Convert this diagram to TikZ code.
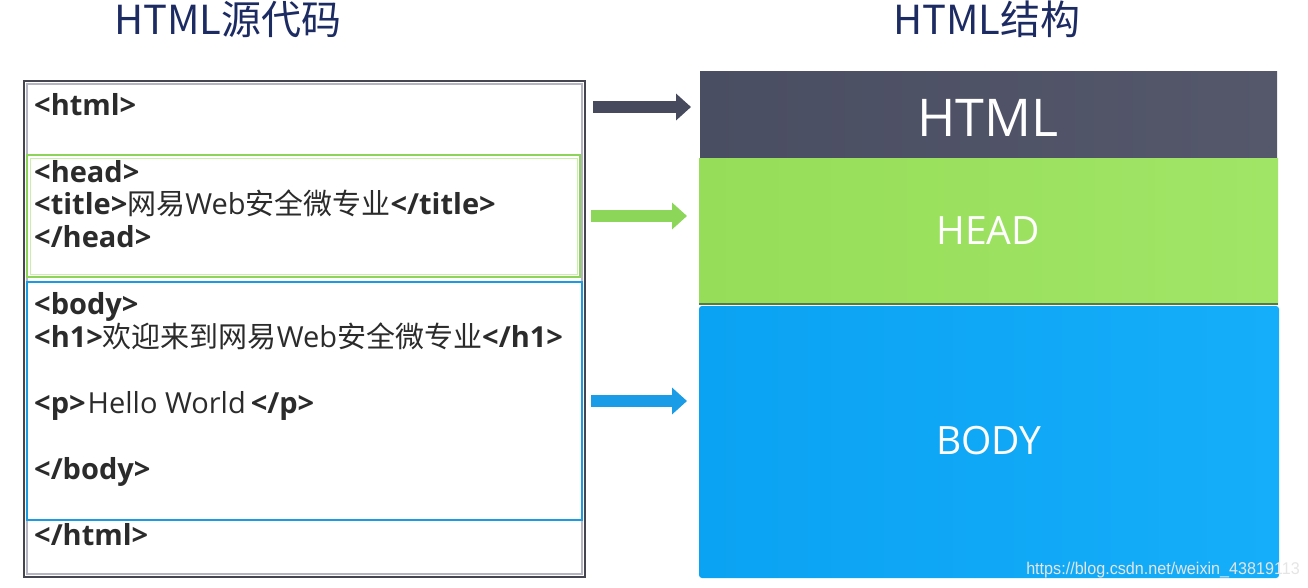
\documentclass[tikz,border=0pt]{standalone}
\usepackage{fontspec}
\setmainfont{Open Sans}
\newfontfamily\cjk{Noto Sans CJK SC}
\newfontfamily\lab{Open Sans}
\newfontfamily\wm[FakeStretch=0.95]{Liberation Sans}
\usetikzlibrary{arrows.meta}
\definecolor{navy}{HTML}{1D2B63}
\definecolor{codegray}{HTML}{2B2B2B}
\definecolor{darkL}{HTML}{4A4E62}
\definecolor{darkR}{HTML}{55586B}
\definecolor{greenL}{HTML}{96DE59}
\definecolor{greenR}{HTML}{A1E566}
\definecolor{blueL}{HTML}{0AA2F2}
\definecolor{blueR}{HTML}{15AEFA}
\definecolor{outerline}{HTML}{45454F}
\definecolor{outerinner}{HTML}{B4B4C2}
\definecolor{greenline}{HTML}{8ED45A}
\definecolor{greeninner}{HTML}{C9EFAA}
\definecolor{blueline}{HTML}{1B9BE0}
\definecolor{darkarrow}{HTML}{464A5C}
\definecolor{greenarrow}{HTML}{8CD65A}
\definecolor{bluearrow}{HTML}{1A9DE6}
\definecolor{sepline}{HTML}{4F7C4C}
\tikzset{
  code/.style={anchor=base west, inner sep=0pt, text=codegray, font=\fontsize{29}{33}\selectfont},
  titletext/.style={anchor=base, inner sep=0pt, text=navy, font=\cjk\fontsize{40}{44}\selectfont},
  blocklabel/.style={text=white, inner sep=0pt, font=\lab},
  block/.style={anchor=north west, inner sep=0pt, outer sep=0pt},
  frame/.style={anchor=north west, inner sep=0pt, outer sep=0pt},
  fatarrow/.style={line width=12pt, -{Triangle[length=15pt,width=26pt]}},
}
\begin{document}
\begin{tikzpicture}[x=1pt,y=-1pt]
\useasboundingbox (0,0) rectangle (1308,587);
% titles
\node[titletext] (t1) at (228,34) {HTML源代码};
\node[titletext] (t2) at (987,34) {HTML结构};
% left source frame
\node[frame, draw=outerline, line width=2.2pt, minimum width=561pt, minimum height=496pt] (outer) at (24,81) {};
\node[frame, draw=outerinner, line width=1.2pt, minimum width=555pt, minimum height=490pt] (outerin) at (27,84) {};
\node[frame, draw=greenline, line width=2.4pt, fill=white, minimum width=553pt, minimum height=122pt] (headbox) at (27,155) {};
\node[frame, draw=greeninner, line width=1pt, minimum width=547pt, minimum height=116pt] (headin) at (30,158) {};
\node[frame, draw=blueline, line width=2.4pt, fill=white, minimum width=555pt, minimum height=238pt] (bodybox) at (27,282) {};
% code lines
\node[code] (l1) at (34,115) {\textbf{<html>}};
\node[code] (l2) at (34,182) {\textbf{<head>}};
\node[code] (l3) at (34,214) {\textbf{<title>}{\cjk 网易}Web{\cjk 安全微专业}\textbf{</title>}};
\node[code] (l4) at (34,247) {\textbf{</head>}};
\node[code] (l5) at (34,314) {\textbf{<body>}};
\node[code] (l6) at (34,347) {\textbf{<h1>}{\cjk 欢迎来到网易}Web{\cjk 安全微专业}\textbf{</h1>}};
\node[code] (l7) at (34,413) {\textbf{<p>}\kern2pt Hello World\kern5pt\textbf{</p>}};
\node[code] (l8) at (34,479) {\textbf{</body>}};
\node[code] (l9) at (34,545) {\textbf{</html>}};
% right structure blocks
\node[block, left color=darkL, right color=darkR, minimum width=577pt, minimum height=87pt] (htmlblk) at (700,71) {};
\node[block, left color=greenL, right color=greenR, minimum width=579pt, minimum height=146pt] (headblk) at (699,158) {};
\draw[sepline, line width=1.6pt] (headblk.south west) -- (headblk.south east);
\node[block, left color=blueL, right color=blueR, rounded corners=3pt, minimum width=580pt, minimum height=272pt] (bodyblk) at (699,306) {};
\node[blocklabel, font=\lab\fontsize{52}{56}\selectfont] (lhtml) at (988,118) {HTML};
\node[blocklabel, font=\lab\fontsize{39}{42}\selectfont] (lhead) at (988,231) {HEAD};
\node[blocklabel, font=\lab\fontsize{39}{42}\selectfont] (lbody) at (989,441) {BODY};
% arrows
\coordinate (a1s) at (593,107); \coordinate (a1e) at (691,107);
\coordinate (a2s) at (591,216); \coordinate (a2e) at (687,216);
\coordinate (a3s) at (591,401); \coordinate (a3e) at (687,401);
\draw[fatarrow, darkarrow] (a1s) -- (a1e);
\draw[fatarrow, greenarrow] (a2s) -- (a2e);
\draw[fatarrow, bluearrow] (a3s) -- (a3e);
% watermark
\node[anchor=base east, inner sep=0pt, text=black!10, font=\wm\fontsize{17}{19}\selectfont] (wmk) at (1300,574) {https://blog.csdn.net/weixin\_43819113};
\end{tikzpicture}
\end{document}
